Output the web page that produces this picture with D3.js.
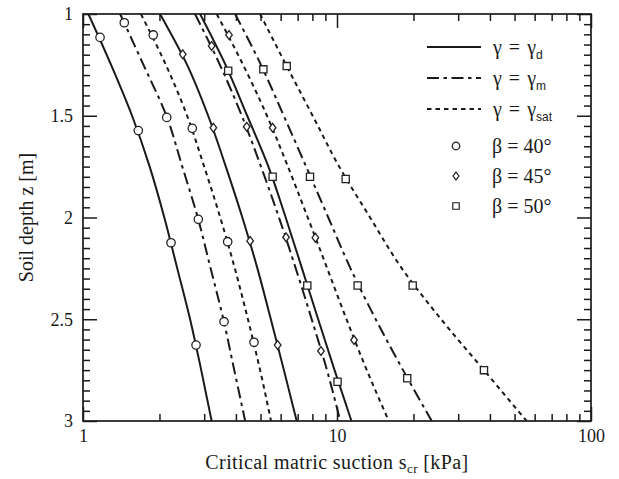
<!DOCTYPE html>
<html>
<head>
<meta charset="utf-8">
<script src="https://cdn.jsdelivr.net/npm/d3@7"></script>
<style>
  html, body { margin: 0; padding: 0; background: #fff; }
  svg text { font-family: "Liberation Serif", "Times New Roman", serif; fill: #1a1a1a; }
</style>
</head>
<body>
<svg id="chart" width="619" height="479"></svg>
<script>
// Soil depth z [m] at which each curve is tabulated
const depths = [1, 1.25, 1.5, 1.75, 2, 2.25, 2.5, 2.75, 3];

// Critical matric suction s_cr [kPa] at the depths above
const sDry40   = [1.05, 1.29, 1.56, 1.83, 2.09, 2.35, 2.64, 2.92, 3.21];
const sMoist40 = [1.40, 1.73, 2.13, 2.46, 2.83, 3.18, 3.57, 3.94, 4.35];
const sSat40   = [1.69, 2.12, 2.57, 3.00, 3.47, 3.96, 4.46, 4.98, 5.50];
const sDry45   = [2.01, 2.57, 3.11, 3.65, 4.24, 4.86, 5.49, 6.18, 6.94];
const sMoist45 = [2.76, 3.46, 4.22, 5.02, 5.91, 6.88, 7.95, 9.13, 10.3];
const sSat45   = [3.36, 4.27, 5.30, 6.41, 7.67, 9.15, 10.9, 13.1, 16.0];
const sDry50   = [2.89, 3.64, 4.43, 5.37, 6.28, 7.28, 8.43, 9.78, 11.4];
const sMoist50 = [3.97, 5.02, 6.17, 7.56, 9.24, 11.3, 14.2, 18.2, 23.6];
const sSat50   = [4.98, 6.30, 8.02, 10.2, 13.5, 18.0, 25.7, 37.9, 55.8];

// Marker points [depth, suction] placed along each curve
const mDry40   = [[1.115, 1.167], [1.573, 1.651], [2.124, 2.221], [2.627, 2.786]];
const mMoist40 = [[1.043, 1.454], [1.508, 2.136], [2.009, 2.844], [2.512, 3.591]];
const mSat40   = [[1.103, 1.891], [1.562, 2.694], [2.119, 3.712], [2.613, 4.713]];
const mDry45   = [[1.198, 2.47], [1.559, 3.26], [2.115, 4.55], [2.627, 5.84]];
const mMoist45 = [[1.157, 3.21], [1.554, 4.41], [2.097, 6.30], [2.656, 8.65]];
const mSat45   = [[1.103, 3.757], [1.559, 5.58], [2.099, 8.22], [2.602, 11.67]];
const mDry50   = [[1.279, 3.73], [1.80, 5.58], [2.334, 7.64], [2.807, 10.05]];
const mMoist50 = [[1.272, 5.13], [1.80, 7.83], [2.334, 12.06], [2.79, 18.9]];
const mSat50   = [[1.256, 6.34], [1.811, 10.82], [2.334, 19.86], [2.75, 37.9]];

// Axis ticks and labels
const xMajor = [1, 10, 100];
const xMinor = [2, 3, 4, 5, 6, 7, 8, 9, 20, 30, 40, 50, 60, 70, 80, 90];
const yMajor = [1, 1.5, 2, 2.5, 3];
const yMajorLabels = ["1", "1.5", "2", "2.5", "3"];
const xLabel = ["Critical matric suction s", "cr", " [kPa]"];
const yLabel = "Soil depth z [m]";

// Legend entries
const gammaKeys = ["d", "m", "sat"];
const betaKeys = [40, 45, 50];

const series = [
  { gamma: "d",   beta: 40, s: sDry40,   marks: mDry40 },
  { gamma: "m",   beta: 40, s: sMoist40, marks: mMoist40 },
  { gamma: "sat", beta: 40, s: sSat40,   marks: mSat40 },
  { gamma: "d",   beta: 45, s: sDry45,   marks: mDry45 },
  { gamma: "m",   beta: 45, s: sMoist45, marks: mMoist45 },
  { gamma: "sat", beta: 45, s: sSat45,   marks: mSat45 },
  { gamma: "d",   beta: 50, s: sDry50,   marks: mDry50 },
  { gamma: "m",   beta: 50, s: sMoist50, marks: mMoist50 },
  { gamma: "sat", beta: 50, s: sSat50,   marks: mSat50 }
];

const ink = "#1a1a1a";
const serif = '"Liberation Serif", "Times New Roman", serif';
const dashFor = { d: null, m: "12,4.5,3.5,4.5", sat: "4.5,4" };

const svg = d3.select("#chart");
const L = 83, R = 591, T = 14, B = 421;

const x = d3.scaleLog().domain([1, 100]).range([L, R]);
const y = d3.scaleLinear().domain([1, 3]).range([T, B]);

// marker shapes
function markerPath(beta, sc) {
  const p = d3.path();
  if (beta === 40) {
    const r = 4.2 * sc;
    p.moveTo(r, 0); p.arc(0, 0, r, 0, 2 * Math.PI);
  } else if (beta === 45) {
    const w = 3.3 * sc, h = 4.4 * sc;
    p.moveTo(0, -h); p.lineTo(w, 0); p.lineTo(0, h); p.lineTo(-w, 0); p.closePath();
  } else {
    const a = 3.6 * sc;
    p.rect(-a, -a, 2 * a, 2 * a);
  }
  return p.toString();
}

svg.append("clipPath").attr("id", "plotClip")
  .append("rect").attr("x", L).attr("y", T).attr("width", R - L).attr("height", B - T);

// curves
const line = d3.line()
  .x(d => x(d[1]))
  .y(d => y(d[0]))
  .curve(d3.curveMonotoneY);

const curves = svg.append("g").attr("clip-path", "url(#plotClip)");
series.forEach(sr => {
  const pts = depths.map((z, i) => [z, sr.s[i]]);
  curves.append("path")
    .attr("d", line(pts))
    .attr("fill", "none")
    .attr("stroke", ink)
    .attr("stroke-width", 2)
    .attr("stroke-dasharray", dashFor[sr.gamma]);
});

// markers
series.forEach(sr => {
  svg.append("g").selectAll("path").data(sr.marks).join("path")
    .attr("transform", d => `translate(${x(d[1])},${y(d[0])})`)
    .attr("d", markerPath(sr.beta, 1))
    .attr("fill", "#fff")
    .attr("stroke", "#222")
    .attr("stroke-width", 1.3);
});

// ticks on all four sides (inward)
function styleAxis(g) {
  g.attr("font-family", null).attr("font-size", null);
  g.select(".domain").remove();
  g.selectAll(".tick line").attr("stroke", ink).attr("stroke-width", 1.5);
  g.selectAll("text").style("font-family", serif).style("font-size", "18px").attr("fill", ink);
}
const majorLen = 14, minorLen = 7;

svg.append("g").attr("transform", `translate(0,${B})`)
  .call(d3.axisBottom(x).tickValues(xMajor).tickSize(-majorLen).tickPadding(8).tickFormat(d3.format("d")))
  .call(styleAxis);
svg.append("g").attr("transform", `translate(0,${B})`)
  .call(d3.axisBottom(x).tickValues(xMinor).tickSize(-minorLen).tickFormat(""))
  .call(styleAxis);
svg.append("g").attr("transform", `translate(0,${T})`)
  .call(d3.axisTop(x).tickValues(xMajor).tickSize(-majorLen).tickFormat(""))
  .call(styleAxis);
svg.append("g").attr("transform", `translate(0,${T})`)
  .call(d3.axisTop(x).tickValues(xMinor).tickSize(-minorLen).tickFormat(""))
  .call(styleAxis);

const yMinor = d3.range(1, 3.001, 0.05).filter(v => !yMajor.some(m => Math.abs(m - v) < 1e-6));
svg.append("g").attr("transform", `translate(${L},0)`)
  .call(d3.axisLeft(y).tickValues(yMajor).tickSize(-majorLen).tickPadding(10)
    .tickFormat((d, i) => yMajorLabels[i]))
  .call(styleAxis);
svg.append("g").attr("transform", `translate(${L},0)`)
  .call(d3.axisLeft(y).tickValues(yMinor).tickSize(-minorLen).tickFormat(""))
  .call(styleAxis);
svg.append("g").attr("transform", `translate(${R},0)`)
  .call(d3.axisRight(y).tickValues(yMajor).tickSize(-majorLen).tickFormat(""))
  .call(styleAxis);
svg.append("g").attr("transform", `translate(${R},0)`)
  .call(d3.axisRight(y).tickValues(yMinor).tickSize(-minorLen).tickFormat(""))
  .call(styleAxis);

// frame
svg.append("rect")
  .attr("x", L).attr("y", T).attr("width", R - L).attr("height", B - T)
  .attr("fill", "none").attr("stroke", ink).attr("stroke-width", 1.7);

// axis titles
const xt = svg.append("text")
  .attr("x", (L + R) / 2).attr("y", 469)
  .attr("text-anchor", "middle")
  .style("font-family", serif).style("font-size", "20px").style("letter-spacing", "0.4px");
xt.append("tspan").text(xLabel[0]);
xt.append("tspan").style("font-size", "13px").attr("dy", 4).text(xLabel[1]);
xt.append("tspan").attr("dy", -4).text(xLabel[2]);

svg.append("text")
  .attr("transform", `translate(33,${(T + B) / 2}) rotate(-90)`)
  .attr("text-anchor", "middle")
  .style("font-family", serif).style("font-size", "20px")
  .text(yLabel);

// legend: unit weight line styles
const lg = svg.append("g");
const lineRows = [47, 78, 109];
gammaKeys.forEach((k, i) => {
  lg.append("line")
    .attr("x1", 427).attr("x2", 481).attr("y1", lineRows[i]).attr("y2", lineRows[i])
    .attr("stroke", ink).attr("stroke-width", 2)
    .attr("stroke-dasharray", dashFor[k]);
  const t = lg.append("text").attr("x", 493).attr("y", lineRows[i] + 7)
    .style("font-family", serif).style("font-size", "20px");
  t.append("tspan").text("γ");
  t.append("tspan").attr("dx", 7).text("=");
  t.append("tspan").attr("dx", 7).text("γ");
  t.append("tspan").attr("dy", 5).style("font-size", "12px")
    .style("font-family", '"Liberation Sans", sans-serif').text(k);
});

// legend: slope angle markers
const markRows = [146, 176, 206];
betaKeys.forEach((b, i) => {
  lg.append("path")
    .attr("transform", `translate(456,${markRows[i]})`)
    .attr("d", markerPath(b, 0.9))
    .attr("fill", "#fff").attr("stroke", "#222").attr("stroke-width", 1.2);
  lg.append("text").attr("x", 492).attr("y", markRows[i] + 7)
    .style("font-family", serif).style("font-size", "20px")
    .text(`β = ${b}°`);
});
</script>
</body>
</html>
